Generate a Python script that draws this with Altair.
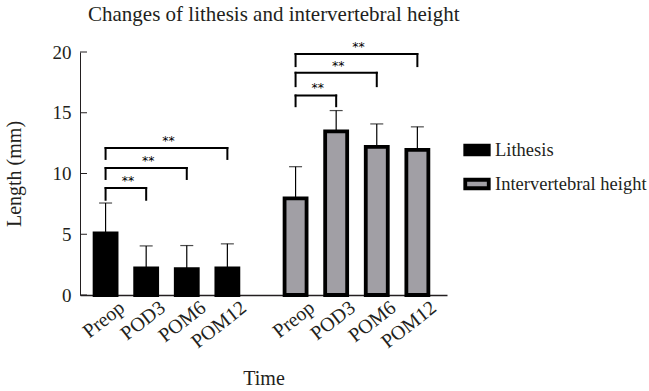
import altair as alt
import pandas as pd

# ---- data ----
groups = ["Lithesis", "Intervertebral height"]
timepoints = ["Preop", "POD3", "POM6", "POM12"]
lithesis_mean = [5.07, 2.18, 2.13, 2.18]
lithesis_sd = [2.50, 1.86, 1.94, 2.03]
inter_mean = [7.95, 13.46, 12.19, 11.95]
inter_sd = [2.61, 1.72, 1.89, 1.89]

comparisons = ["POD3", "POM6", "POM12"]  # each vs Preop
lith_bracket_y = [8.80, 10.45, 12.10]
lith_leg_bottom = [7.84, 9.55, 11.20]
inter_bracket_y = [16.42, 18.29, 19.83]
inter_leg_bottom = [15.54, 17.19, 18.84]
sig_label = "**"
y_ticks = [0, 5, 10, 15, 20]

# ---- layout helpers ----
GROUP_STEP = 4.68
FONT = "Liberation Serif"
TXT = "#231f20"
GRAY = "#a19fa5"

def pos(gi, ti):
    return ti + gi * GROUP_STEP

rows = []
for gi, (g, means, sds) in enumerate(zip(groups, [lithesis_mean, inter_mean], [lithesis_sd, inter_sd])):
    for ti, t in enumerate(timepoints):
        rows.append({"group": g, "time": t, "pos": pos(gi, ti),
                     "mean": means[ti], "upper": means[ti] + sds[ti]})
bars_df = pd.DataFrame(rows)

brows = []
for gi, (by, bl) in enumerate([(lith_bracket_y, lith_leg_bottom), (inter_bracket_y, inter_leg_bottom)]):
    for ci, c in enumerate(comparisons):
        x1 = pos(gi, 0)
        x2 = pos(gi, timepoints.index(c))
        brows.append({"x1": x1, "x2": x2, "mid": (x1 + x2) / 2, "y": by[ci], "ylo": bl[ci], "label": sig_label})
br_df = pd.DataFrame(brows)
ticks_df = pd.DataFrame({"t": y_ticks})

tick_positions = [pos(gi, ti) for gi in range(len(groups)) for ti in range(len(timepoints))]
names_js = "[" + ",".join("'%s'" % t for t in timepoints) + "]"
label_expr = f"datum.value < {GROUP_STEP - 0.5} ? {names_js}[round(datum.value)] : {names_js}[round(datum.value - {GROUP_STEP})]"

xscale = alt.Scale(domain=[-0.63, 8.41], nice=False, zero=False, padding=0)
yscale = alt.Scale(domain=[0, 20], nice=False, padding=0)

x_axis = alt.Axis(values=tick_positions, labelExpr=label_expr, ticks=False, grid=False,
                  domainColor=TXT, domainWidth=1.3, labelAngle=-38, labelAlign="right",
                  labelBaseline="top", labelOffset=10, labelPadding=2, labelFont=FONT,
                  labelFontSize=20, labelColor=TXT, labelOverlap=False, labelBound=False,
                  title="Time", titleFont=FONT,
                  titleFontSize=20, titleFontWeight="normal", titleColor=TXT, titlePadding=17)
y_axis = alt.Axis(values=y_ticks, ticks=False, grid=False, domainColor=TXT, domainWidth=1,
                  labelFont=FONT, labelFontSize=19, labelColor=TXT, labelPadding=9,
                  title="Length (mm)", titleFont=FONT, titleFontSize=20,
                  titleFontWeight="normal", titleColor=TXT, titlePadding=28)

err = alt.Chart(bars_df).mark_rule(color="black", strokeWidth=1.2).encode(
    x=alt.X("pos:Q", scale=xscale, axis=x_axis),
    y=alt.Y("mean:Q", scale=yscale, axis=y_axis),
    y2="upper:Q",
)
caps = alt.Chart(bars_df).mark_tick(color="black", orient="horizontal", size=13, thickness=1.2).encode(
    x="pos:Q", y="upper:Q"
)
bars = alt.Chart(bars_df).mark_bar(size=22, stroke="black", strokeWidth=3.8, strokeJoin="miter").encode(
    x="pos:Q",
    y="mean:Q",
    color=alt.Color("group:N", scale=alt.Scale(domain=groups, range=["black", GRAY]),
                    legend=alt.Legend(title=None, orient="none", legendX=383, legendY=84,
                                      symbolType="M-1,-0.36H1V0.36H-1Z", symbolSize=552,
                                      symbolStrokeColor="black", symbolStrokeWidth=3.8,
                                      symbolOpacity=1, labelFont=FONT, labelFontSize=18.5,
                                      labelColor=TXT, labelOffset=4, rowPadding=8, padding=0)),
)
hline = alt.Chart(br_df).mark_rule(color="black", strokeWidth=2, strokeCap="square").encode(
    x="x1:Q", x2="x2:Q", y="y:Q")
leg1 = alt.Chart(br_df).mark_rule(color="black", strokeWidth=2, strokeCap="square").encode(
    x="x1:Q", y="ylo:Q", y2="y:Q")
leg2 = alt.Chart(br_df).mark_rule(color="black", strokeWidth=2, strokeCap="square").encode(
    x="x2:Q", y="ylo:Q", y2="y:Q")
stars = alt.Chart(br_df).mark_text(font="DejaVu Sans", fontSize=12.5, baseline="bottom", dy=0, dx=2,
                                   fill="black").encode(x="mid:Q", y="y:Q", text="label:N")
yticks = alt.Chart(ticks_df).mark_rule(color=TXT, strokeWidth=1).encode(
    x=alt.value(0), x2=alt.value(7), y="t:Q")

chart = alt.layer(err, caps, bars, hline, leg1, leg2, stars, yticks).properties(
    width=367, height=243,
    title=alt.TitleParams("Changes of lithesis and intervertebral height", font=FONT, fontSize=21,
                          fontWeight="normal", color=TXT, anchor="start", frame="group",
                          dx=8, offset=16),
    autosize=alt.AutoSizeParams(type="none"),
    padding={"left": 80, "top": 52, "right": 202, "bottom": 96},
).configure_view(stroke=None)

chart.save("out.html", embed_options={"renderer": "svg", "actions": False})
